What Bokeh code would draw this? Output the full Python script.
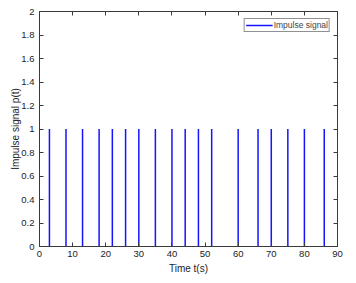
from bokeh.plotting import figure
from bokeh.models import LinearAxis, FixedTicker, Range1d, Legend, LegendItem, CustomLabelingPolicy
from bokeh.embed import file_html
from bokeh.resources import INLINE

# data
impulse_times = [3, 8, 13, 18, 22, 26, 30, 35, 40, 44, 48, 52, 60, 66, 70, 75, 80, 86]
impulse_values = [1] * len(impulse_times)
impulse_base = [0] * len(impulse_times)
x_ticks = [0, 10, 20, 30, 40, 50, 60, 70, 80, 90]
y_ticks = [0, 0.2, 0.4, 0.6, 0.8, 1, 1.2, 1.4, 1.6, 1.8, 2]
y_tick_labels = ["0", "0.2", "0.4", "0.6", "0.8", "1", "1.2", "1.4", "1.6", "1.8", "2"]

FONT = "Liberation Sans"
AXC = "#3a3a3a"

p = figure(width=348, height=275, output_backend="svg", toolbar_location=None,
           x_range=Range1d(0, 90), y_range=Range1d(0, 2),
           frame_width=298, frame_height=235,
           min_border_left=39, min_border_right=11, min_border_top=10, min_border_bottom=30)
p.background_fill_color = "white"
p.border_fill_color = "white"
p.outline_line_color = AXC
p.xgrid.visible = False
p.ygrid.visible = False

r = p.segment(x0=impulse_times, y0=impulse_base, x1=impulse_times, y1=impulse_values,
              line_color="#1414ff", line_width=1.5)

for ax in (p.xaxis[0], p.yaxis[0]):
    ax.axis_line_color = AXC
    ax.major_tick_line_color = AXC
    ax.major_tick_in = 4
    ax.major_tick_out = 0
    ax.minor_tick_line_color = None
    ax.major_label_text_font = FONT
    ax.major_label_text_font_size = "9.5px"
    ax.major_label_text_color = "#222222"
    ax.axis_label_text_font = FONT
    ax.axis_label_text_font_size = "10px"
    ax.axis_label_text_font_style = "normal"
    ax.axis_label_text_color = "#222222"

p.xaxis[0].ticker = FixedTicker(ticks=x_ticks)
p.yaxis[0].ticker = FixedTicker(ticks=y_ticks)
p.yaxis[0].major_label_overrides = {v: l for v, l in zip(y_ticks, y_tick_labels)}
p.xaxis[0].axis_label = "Time t(s)"
p.yaxis[0].axis_label = "Impulse signal p(t)"
p.xaxis[0].major_label_standoff = 4
p.xaxis[0].axis_label_standoff = 3
p.yaxis[0].major_label_standoff = 5
p.yaxis[0].axis_label_standoff = -3

hide_all = CustomLabelingPolicy(code="""
const a = Array.from(indices);
for (const i of a) indices.unset(i);
return indices;
""")

for loc, ticks in (("above", x_ticks), ("right", y_ticks)):
    a = LinearAxis(ticker=FixedTicker(ticks=ticks))
    a.axis_line_color = AXC
    a.major_tick_line_color = AXC
    a.major_tick_in = 4
    a.major_tick_out = 0
    a.minor_tick_line_color = None
    a.major_label_policy = hide_all
    a.major_label_standoff = 0
    p.add_layout(a, loc)

legend = Legend(items=[LegendItem(label="Impulse signal", renderers=[r])],
                location="top_right")
legend.label_text_font = FONT
legend.label_text_font_size = "8.5px"
legend.label_height = 10
legend.glyph_height = 10
legend.glyph_width = 27
legend.label_standoff = 1
legend.padding = 1
legend.spacing = 0
legend.margin = 7
legend.border_line_color = "#222222"
legend.border_line_width = 1
legend.background_fill_alpha = 1
p.add_layout(legend)

open("out.html", "w").write(file_html(p, INLINE))
